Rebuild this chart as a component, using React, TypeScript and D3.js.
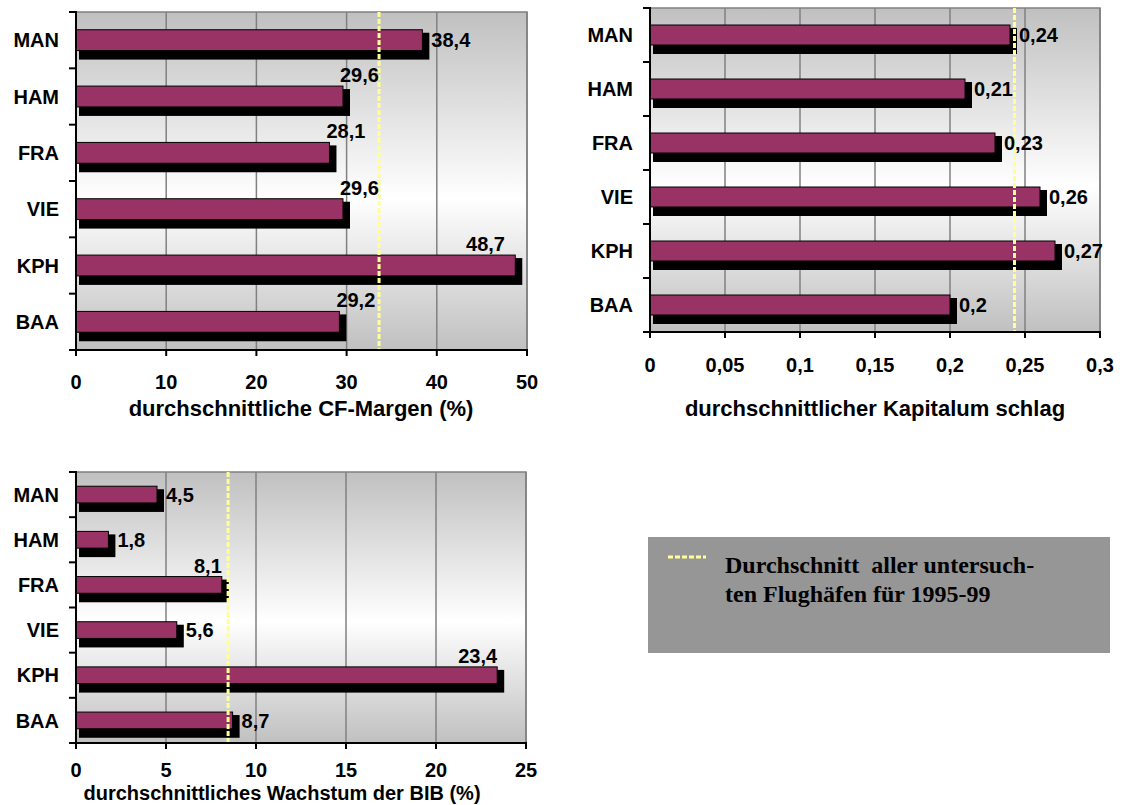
import React, { useRef, useEffect } from 'react';
import * as d3 from 'd3';

// airports in display order (top to bottom)
const airports = ['MAN', 'HAM', 'FRA', 'VIE', 'KPH', 'BAA'];

const cfMargin = [38.4, 29.6, 28.1, 29.6, 48.7, 29.2];
const cfAverage = 33.6;
const cfTicks = [0, 10, 20, 30, 40, 50];
const cfLabelSide = ['right', 'above', 'above', 'above', 'above', 'above'];

const capitalTurnover = [0.24, 0.21, 0.23, 0.26, 0.27, 0.2];
const turnoverAverage = 0.243;
const turnoverTicks = [0, 0.05, 0.1, 0.15, 0.2, 0.25, 0.3];
const turnoverLabelSide = ['right', 'right', 'right', 'right', 'right', 'right'];

const bibGrowth = [4.5, 1.8, 8.1, 5.6, 23.4, 8.7];
const growthAverage = 8.45;
const growthTicks = [0, 5, 10, 15, 20, 25];
const growthLabelSide = ['right', 'right', 'above', 'right', 'above', 'right'];

const legendLines = ['Durchschnitt  aller untersuch-', 'ten Flughäfen für 1995-99'];

const SANS = '"Liberation Sans", Arial, sans-serif';
const SERIF = '"Liberation Serif", "Times New Roman", serif';
const fmt = (v: number) => String(v).replace('.', ',');

interface ChartCfg {
  id: string;
  values: number[];
  average: number;
  ticks: number[];
  labelSide: string[];
  title: string;
  left: number;
  right: number;
  top: number;
  bottom: number;
  tickLabelDy: number;
  titleY: number;
  titleX: number;
  titleSize: number;
  aboveAnchor: 'start' | 'end';
  aboveClamp: number;
}

const charts: ChartCfg[] = [
  {
    id: 'cf', values: cfMargin, average: cfAverage, ticks: cfTicks, labelSide: cfLabelSide,
    title: 'durchschnittliche CF-Margen (%)',
    left: 76, right: 527, top: 12, bottom: 350, tickLabelDy: 32, titleY: 408, titleX: 301, titleSize: 22,
    aboveAnchor: 'start', aboveClamp: 22,
  },
  {
    id: 'kap', values: capitalTurnover, average: turnoverAverage, ticks: turnoverTicks, labelSide: turnoverLabelSide,
    title: 'durchschnittlicher Kapitalum schlag',
    left: 650, right: 1100, top: 8, bottom: 332, tickLabelDy: 33, titleY: 408, titleX: 875, titleSize: 22,
    aboveAnchor: 'start', aboveClamp: 2,
  },
  {
    id: 'bib', values: bibGrowth, average: growthAverage, ticks: growthTicks, labelSide: growthLabelSide,
    title: 'durchschnittliches Wachstum der BIB (%)',
    left: 76, right: 526, top: 472, bottom: 743, tickLabelDy: 27, titleY: 793, titleX: 282, titleSize: 20,
    aboveAnchor: 'end', aboveClamp: 2,
  },
];

function drawChart(svg: d3.Selection<SVGSVGElement, unknown, null, undefined>, cfg: ChartCfg) {
  const x = d3.scaleLinear().domain([0, cfg.ticks[cfg.ticks.length - 1]]).range([cfg.left, cfg.right]);
  const y = d3.scaleBand<string>().domain(airports).range([cfg.top, cfg.bottom]);
  const bw = y.bandwidth();
  const barH = bw * 0.37;

  const g = svg.append('g');

  // plot background with vertical gradient
  const grad = svg.select('defs').append('linearGradient')
    .attr('id', `bg-${cfg.id}`).attr('x1', 0).attr('y1', 0).attr('x2', 0).attr('y2', 1);
  grad.append('stop').attr('offset', '0%').attr('stop-color', '#c0c0c0');
  grad.append('stop').attr('offset', '55%').attr('stop-color', '#ffffff');
  grad.append('stop').attr('offset', '100%').attr('stop-color', '#c0c0c0');

  g.append('rect')
    .attr('x', cfg.left).attr('y', cfg.top)
    .attr('width', cfg.right - cfg.left).attr('height', cfg.bottom - cfg.top)
    .attr('fill', `url(#bg-${cfg.id})`)
    .attr('stroke', '#808080').attr('stroke-width', 1.5);

  // vertical gridlines
  g.selectAll('.grid').data(cfg.ticks.slice(1)).join('line')
    .attr('x1', d => x(d)).attr('x2', d => x(d))
    .attr('y1', cfg.top).attr('y2', cfg.bottom)
    .attr('stroke', '#808080').attr('stroke-width', 1.5);

  const rows = airports.map((a, i) => ({ a, v: cfg.values[i], side: cfg.labelSide[i] }));

  // shadows
  g.selectAll('.shadow').data(rows).join('rect')
    .attr('x', x(0) + 3)
    .attr('y', d => (y(d.a) as number) + (bw - barH) / 2 + 3)
    .attr('width', d => x(d.v) - x(0) + 4)
    .attr('height', barH + 6)
    .attr('fill', '#000');

  // bars
  g.selectAll('.bar').data(rows).join('rect')
    .attr('x', x(0))
    .attr('y', d => (y(d.a) as number) + (bw - barH) / 2)
    .attr('width', d => x(d.v) - x(0))
    .attr('height', barH)
    .attr('fill', '#993366')
    .attr('stroke', '#000').attr('stroke-width', 1);

  // average line
  g.append('line')
    .attr('x1', x(cfg.average)).attr('x2', x(cfg.average))
    .attr('y1', cfg.top).attr('y2', cfg.bottom)
    .attr('stroke', '#ffff99').attr('stroke-width', 3)
    .attr('stroke-dasharray', '5,2');

  // axes
  g.append('line')
    .attr('x1', x(0)).attr('x2', x(0)).attr('y1', cfg.top - 1).attr('y2', cfg.bottom)
    .attr('stroke', '#000').attr('stroke-width', 2);
  g.append('line')
    .attr('x1', x(0) - 7).attr('x2', cfg.right + 1).attr('y1', cfg.bottom).attr('y2', cfg.bottom)
    .attr('stroke', '#000').attr('stroke-width', 2);

  const bounds = [...airports.map(a => y(a) as number), cfg.bottom];
  g.selectAll('.ytick').data(bounds).join('line')
    .attr('x1', x(0) - 7).attr('x2', x(0))
    .attr('y1', d => d).attr('y2', d => d)
    .attr('stroke', '#000').attr('stroke-width', 2);

  g.selectAll('.xtick').data(cfg.ticks).join('line')
    .attr('x1', d => x(d)).attr('x2', d => x(d))
    .attr('y1', cfg.bottom).attr('y2', cfg.bottom + 6)
    .attr('stroke', '#000').attr('stroke-width', 2);

  g.selectAll('.xlabel').data(cfg.ticks).join('text')
    .attr('x', d => x(d)).attr('y', cfg.bottom + cfg.tickLabelDy)
    .attr('dy', '0.36em')
    .attr('text-anchor', 'middle')
    .attr('font-family', SANS).attr('font-weight', 'bold').attr('font-size', 20)
    .text(d => fmt(d));

  g.selectAll('.ylabel').data(airports).join('text')
    .attr('x', x(0) - 17)
    .attr('y', d => (y(d) as number) + bw / 2)
    .attr('dy', '0.36em')
    .attr('text-anchor', 'end')
    .attr('font-family', SANS).attr('font-weight', 'bold').attr('font-size', 20)
    .text(d => d);

  // value labels
  g.selectAll('.vlabel').data(rows).join('text')
    .attr('font-family', SANS).attr('font-weight', 'bold').attr('font-size', 20)
    .each(function (d) {
      const t = d3.select(this).text(fmt(d.v));
      const barTop = (y(d.a) as number) + (bw - barH) / 2;
      if (d.side === 'right') {
        t.attr('x', x(d.v) + 9).attr('y', barTop + barH / 2).attr('dy', '0.36em').attr('text-anchor', 'start');
      } else {
        const w = (this as SVGTextElement).getComputedTextLength();
        let sx = cfg.aboveAnchor === 'start' ? x(d.v) - 3 : x(d.v) - w;
        sx = Math.min(sx, cfg.right - w - cfg.aboveClamp);
        t.attr('x', sx).attr('y', barTop - 4).attr('text-anchor', 'start');
      }
    });

  g.append('text')
    .attr('x', cfg.titleX).attr('y', cfg.titleY).attr('dy', '0.36em')
    .attr('text-anchor', 'middle')
    .attr('font-family', SANS).attr('font-weight', 'bold').attr('font-size', cfg.titleSize)
    .text(cfg.title);
}

export default function App() {
  const ref = useRef<SVGSVGElement | null>(null);

  useEffect(() => {
    if (!ref.current) return;
    const svg = d3.select(ref.current);
    svg.selectAll('*').remove();
    svg.append('defs');

    charts.forEach(c => drawChart(svg, c));

    // legend box
    const lg = svg.append('g');
    lg.append('rect')
      .attr('x', 648).attr('y', 537).attr('width', 462).attr('height', 116)
      .attr('fill', '#969696');
    lg.append('line')
      .attr('x1', 668).attr('x2', 706).attr('y1', 557).attr('y2', 557)
      .attr('stroke', '#ffff99').attr('stroke-width', 3)
      .attr('stroke-dasharray', '5,2');
    lg.selectAll('.lt').data(legendLines).join('text')
      .attr('x', 725).attr('y', (_, i) => 565 + i * 29)
      .attr('dy', '0.35em')
      .attr('font-family', SERIF).attr('font-weight', 'bold').attr('font-size', 24)
      .style('white-space', 'pre')
      .text(d => d);
  }, []);

  return (
    <svg
      ref={ref}
      width={1138}
      height={805}
      style={{ position: 'absolute', left: 0, top: 0, background: '#fff' }}
    />
  );
}
